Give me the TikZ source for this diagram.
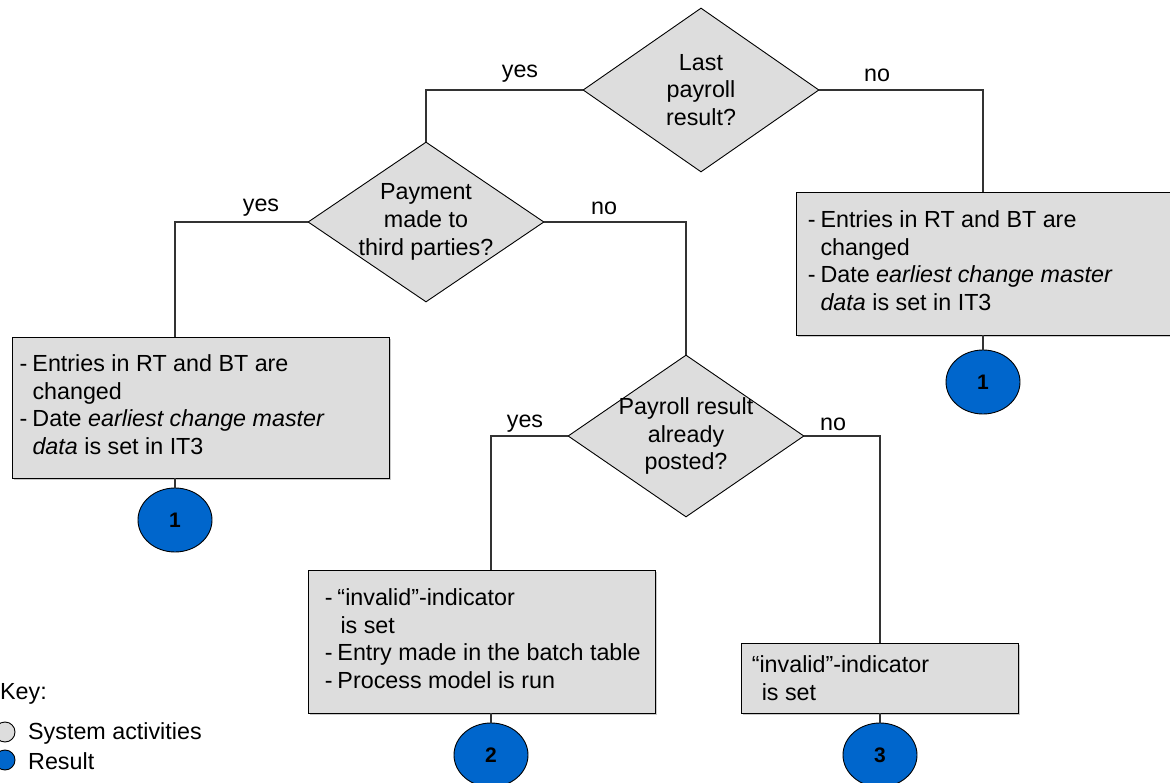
\documentclass[tikz,border=0pt]{standalone}
\usepackage{fontspec}
\setmainfont{Liberation Sans}
\usetikzlibrary{shapes.geometric,shadows}
\definecolor{boxgray}{HTML}{DDDDDD}
\definecolor{resblue}{HTML}{0066CC}
\definecolor{linec}{HTML}{333333}
\begin{document}
\begin{tikzpicture}[x=1pt,y=-1pt,
  font=\fontsize{23.3}{27.7}\selectfont,
  conn/.style={draw=linec, line width=1.1pt},
  dia/.style={diamond, draw=black, fill=boxgray, minimum width=236pt, minimum height=162pt, inner sep=0pt, line width=0.9pt},
  actbox/.style={rectangle, draw=black, fill=boxgray, inner sep=0pt, line width=0.9pt,
     drop shadow={shadow xshift=2pt, shadow yshift=-2pt, fill=black!35, opacity=0.6}},
  res/.style={ellipse, draw=black, fill=resblue, minimum width=74pt, minimum height=64pt, inner sep=0pt, line width=0.9pt, font=\fontsize{21}{24}\selectfont\bfseries},
  lbl/.style={inner sep=0pt, anchor=center},
  txt/.style={inner sep=0pt, anchor=west, align=left},
  keydot/.style={circle, draw=black, minimum size=20pt, inner sep=0pt, line width=0.9pt}
]
\useasboundingbox (0,0) rectangle (1170,783);

% decisions
\node[dia, minimum height=164pt] (d1) at (701,90) {};
\node[lbl, align=center] (d1t) at (d1.center) {Last\\payroll\\result?};
\node[dia, minimum height=160pt] (d2) at (426,222) {};
\node[lbl, align=center] (d2t) at (d2.center) {Payment\\made to\\third parties?};
\node[dia, minimum height=162pt] (d3) at (686,436) {};
\node[lbl, align=center] (d3t) at (d3.center) {Payroll result\\already\\posted?};

% activity boxes
\node[actbox, minimum width=374pt, minimum height=143pt] (b1) at (983,263.5) {};
\node[txt] (b1t) at ([xshift=12pt]b1.west) {\begin{tabular}{@{}l@{\hspace{5pt}}l@{}}-&Entries in RT and BT are\\ &changed\\ -&Date \textit{earliest change master}\\ &\textit{data} is set in IT3\end{tabular}};

\node[actbox, minimum width=377pt, minimum height=141pt] (b2) at (200.5,407.5) {};
\node[txt] (b2t) at ([xshift=8pt]b2.west) {\begin{tabular}{@{}l@{\hspace{5pt}}l@{}}-&Entries in RT and BT are\\ &changed\\ -&Date \textit{earliest change master}\\ &\textit{data} is set in IT3\end{tabular}};

\node[actbox, minimum width=347pt, minimum height=143pt] (b3) at (481.5,641.5) {};
\node[txt] (b3t) at ([xshift=17pt]b3.west) {\begin{tabular}{@{}l@{\hspace{5pt}}l@{}}-&``invalid''-indicator\\ &\hspace{3pt}is set\\ -&Entry made in the batch table\\ -&Process model is run\end{tabular}};

\node[actbox, minimum width=277pt, minimum height=70pt] (b4) at (879.5,678) {};
\node[txt] (b4t) at ([xshift=11pt]b4.west) {``invalid''-indicator\\\hspace{10pt}is set};

% results
\node[res] (r1) at (983,382) {1};
\node[res] (r2) at (175,520) {1};
\node[res] (r3) at (491,755) {2};
\node[res] (r4) at (880,755) {3};

% connectors
\draw[conn] (d1.west) -| (d2.north);
\draw[conn] (d1.east) -| (r1.north |- b1.north);
\draw[conn] (d2.west) -| (r2.north |- b2.north);
\draw[conn] (d2.east) -| (d3.north);
\draw[conn] (d3.west) -| (r3.north |- b3.north);
\draw[conn] (d3.east) -| (r4.north |- b4.north);
\draw[conn] (r1.north |- b1.south) -- (r1.north);
\draw[conn] (r2.north |- b2.south) -- (r2.north);
\draw[conn] (r3.north |- b3.south) -- (r3.north);
\draw[conn] (r4.north |- b4.south) -- (r4.north);

% branch labels
\node[lbl] (y1) at (520,74) {yes};
\node[lbl] (n1) at (877,75) {no};
\node[lbl] (y2) at (261,208) {yes};
\node[lbl] (n2) at (604,208) {no};
\node[lbl] (y3) at (525,424) {yes};
\node[lbl] (n3) at (833,424) {no};

% key
\node[inner sep=0pt, anchor=west] (key) at (0,694) {Key:};
\node[keydot, fill=boxgray] (k1) at (5,732) {};
\node[keydot, fill=resblue] (k2) at (5,760) {};
\node[inner sep=0pt, anchor=west] (k1t) at (28,733) {System activities};
\node[inner sep=0pt, anchor=west] (k2t) at (28,761) {Result};
\end{tikzpicture}
\end{document}
